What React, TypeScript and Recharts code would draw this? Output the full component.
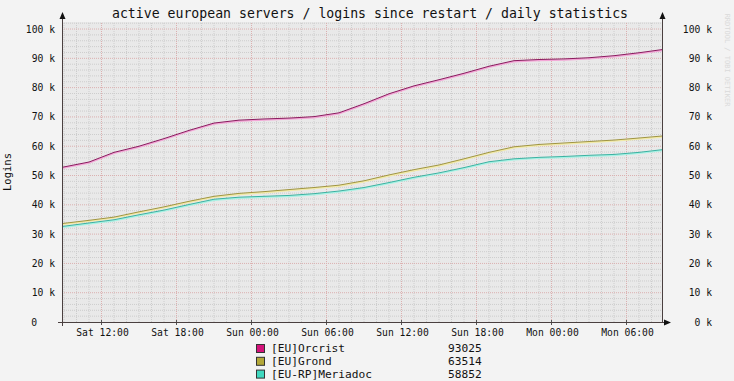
import React from 'react';
import {
    LineChart,
    Line,
    XAxis,
    YAxis,
    CartesianGrid,
    ReferenceLine,
} from 'recharts';

// hours since Sat 00:00
const hours = [8.84, 11, 13, 15, 17, 19, 21, 23, 25, 27, 29, 31, 33, 35, 37, 39, 41, 43, 45, 47, 49, 51, 53, 55, 56.92];
const orcrist = [52800, 54600, 57900, 60000, 62600, 65400, 67900, 68900, 69300, 69600, 70100, 71400, 74500, 77900, 80600, 82700, 84900, 87300, 89200, 89600, 89800, 90200, 90900, 91900, 93025];
const grond = [33600, 34700, 35800, 37600, 39300, 41200, 42900, 43900, 44500, 45200, 45900, 46700, 48200, 50200, 52000, 53600, 55700, 57900, 59800, 60600, 61100, 61600, 62100, 62800, 63514];
const meriadoc = [32600, 33800, 34900, 36600, 38200, 40100, 41900, 42600, 42900, 43200, 43800, 44700, 45900, 47600, 49400, 50900, 52700, 54700, 55700, 56200, 56500, 56900, 57200, 57900, 58852];

const xTicks = [12, 18, 24, 30, 36, 42, 48, 54];
const xLabels = ['Sat 12:00', 'Sat 18:00', 'Sun 00:00', 'Sun 06:00', 'Sun 12:00', 'Sun 18:00', 'Mon 00:00', 'Mon 06:00'];
const yTicks = [0, 10000, 20000, 30000, 40000, 50000, 60000, 70000, 80000, 90000, 100000];

const seriesNames = ['[EU]Orcrist', '[EU]Grond', '[EU-RP]Meriadoc'];
const lastValues = ['93025', '63514', '58852'];

const data = hours.map((h, i) => ({ h, orcrist: orcrist[i], grond: grond[i], meriadoc: meriadoc[i] }));

// grid positions
const minorX: number[] = [];
for (let h = 9; h <= 56; h++) if (h % 6 !== 0) minorX.push(h);
const minorY: number[] = [];
for (let v = 2000; v <= 102000; v += 2000) if (v % 10000 !== 0) minorY.push(v);

const FONT = '"DejaVu Sans Mono", monospace';

const series = [
    { key: 'orcrist', line: '#8a1a5e', glow: '#f3a6d6', swatch: '#d4137a' },
    { key: 'grond', line: '#a09540', glow: '#f2eaa6', swatch: '#b3a838' },
    { key: 'meriadoc', line: '#3ab2a2', glow: '#a6f2e4', swatch: '#3fd8bf' },
];

const LeftTick = ({ y, payload }: any) => {
    const v = payload.value;
    return (
        <text x={v === 0 ? 37 : 55} y={y} textAnchor="end" dominantBaseline="central"
            fontFamily={FONT} fontSize={9.7} fill="#111">
            {v === 0 ? '0' : `${v / 1000} k`}
        </text>
    );
};

const RightTick = ({ y, payload }: any) => (
    <text x={712} y={y} textAnchor="end" dominantBaseline="central"
        fontFamily={FONT} fontSize={9.7} fill="#111">
        {`${payload.value / 1000} k`}
    </text>
);

const BottomTick = ({ x, payload }: any) => (
    <g>
        <line x1={x} x2={x} y1={320} y2={325} stroke="#555" />
        <text x={x + 1} y={332} textAnchor="middle" dominantBaseline="central"
            fontFamily={FONT} fontSize={9.7} fill="#111">
            {xLabels[xTicks.indexOf(payload.value)]}
        </text>
    </g>
);

export default function App() {
    return (
        <div style={{ position: 'fixed', left: 0, top: 0, width: 734, height: 381, background: '#f3f3f3', fontFamily: FONT }}>
            <style>{'.glow{transform:translateY(1px)}'}</style>
            <LineChart width={734} height={381} data={data} margin={{ top: 22, right: 0, left: 0, bottom: 0 }}>
                <CartesianGrid horizontal={false} vertical={false} fill="#e9e9e9" />
                <XAxis
                    dataKey="h"
                    type="number"
                    domain={[8.84, 56.92]}
                    ticks={xTicks}
                    height={59}
                    axisLine={false}
                    tickLine={false}
                    tick={<BottomTick />}
                    allowDataOverflow
                />
                <YAxis yAxisId="l" domain={[0, 102400]} ticks={yTicks} width={62} axisLine={false} tickLine={false} tick={<LeftTick />} allowDataOverflow />
                <YAxis yAxisId="r" orientation="right" domain={[0, 102400]} ticks={yTicks} width={71} axisLine={false} tickLine={false} tick={<RightTick />} allowDataOverflow />
                {minorX.map((h) => (
                    <ReferenceLine key={'mx' + h} yAxisId="l" x={h} stroke="#cdcdcd" strokeDasharray="1 1" />
                ))}
                {minorY.map((v) => (
                    <ReferenceLine key={'my' + v} yAxisId="l" y={v} stroke="#cdcdcd" strokeDasharray="1 1" />
                ))}
                {xTicks.map((h) => (
                    <ReferenceLine key={'Mx' + h} yAxisId="l" x={h} stroke="#dbb0b0" strokeDasharray="1 1" />
                ))}
                {yTicks.slice(1).map((v) => (
                    <ReferenceLine key={'My' + v} yAxisId="l" y={v} stroke="#dbb0b0" strokeDasharray="1 1" />
                ))}
                {series.map((s) => (
                    <Line key={s.key + 'g'} yAxisId="l" className="glow" type="linear" dataKey={s.key}
                        stroke={s.glow} strokeWidth={1.5} dot={false} activeDot={false} isAnimationActive={false} />
                ))}
                {series.map((s) => (
                    <Line key={s.key} yAxisId="l" type="linear" dataKey={s.key}
                        stroke={s.line} strokeWidth={1} dot={false} activeDot={false} isAnimationActive={false} />
                ))}
            </LineChart>

            {/* axes with arrows */}
            <svg width={734} height={381} style={{ position: 'absolute', left: 0, top: 0, pointerEvents: 'none' }}>
                <line x1={62.5} y1={17} x2={62.5} y2={326} stroke="#4a4040" />
                <line x1={662.5} y1={17} x2={662.5} y2={322} stroke="#4a4040" />
                <line x1={58} y1={322.5} x2={667} y2={322.5} stroke="#4a4040" />
                <polygon points="62.5,12 59.5,19 65.5,19" fill="#111" />
                <polygon points="662.5,12 659.5,19 665.5,19" fill="#111" />
                <polygon points="671,322.5 664,319.5 664,325.5" fill="#111" />
                <text x={370} y={13.5} textAnchor="middle" dominantBaseline="central" fontFamily={FONT} fontSize={13.2} fill="#111">
                    active european servers / logins since restart / daily statistics
                </text>
                <text transform="translate(7,172) rotate(-90)" textAnchor="middle" dominantBaseline="central" fontFamily={FONT} fontSize={10.5} fill="#111">
                    Logins
                </text>
                <text transform="translate(727,60) rotate(90)" textAnchor="middle" dominantBaseline="central" fontFamily={FONT} fontSize={7} fill="#dadada">
                    RRDTOOL / TOBI OETIKER
                </text>
                {seriesNames.map((n, i) => (
                    <g key={n}>
                        <rect x={256.5} y={344.5 + i * 12.8} width={8} height={8} fill={series[i].swatch} stroke="#333" />
                        <text x={271} y={348.5 + i * 12.8} dominantBaseline="central" fontFamily={FONT} fontSize={11.2} fill="#111">{n}</text>
                        <text x={448} y={348.5 + i * 12.8} dominantBaseline="central" fontFamily={FONT} fontSize={11.2} fill="#111">{lastValues[i]}</text>
                    </g>
                ))}
            </svg>
        </div>
    );
}
